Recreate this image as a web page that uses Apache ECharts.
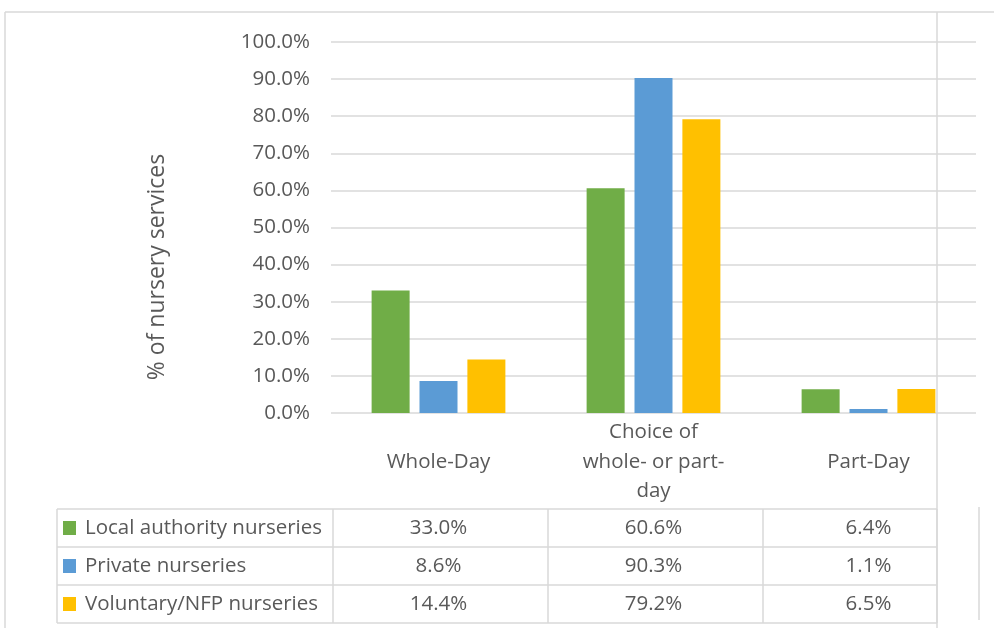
<!DOCTYPE html>
<html>
<head>
<meta charset="utf-8">
<script src="https://cdn.jsdelivr.net/npm/echarts@6/dist/echarts.min.js"></script>
<style>
  html, body { margin: 0; padding: 0; background: #fff; }
  #chart { width: 994px; height: 628px; }
</style>
</head>
<body>
<div id="chart"></div>
<script>
const categories = ['Whole-Day', 'Choice of\nwhole- or part-\nday', 'Part-Day']
const seriesNames = ['Local authority nurseries', 'Private nurseries', 'Voluntary/NFP nurseries']
const localAuthority = [33.0, 60.6, 6.4]
const privateNurseries = [8.6, 90.3, 1.1]
const voluntaryNfp = [14.4, 79.2, 6.5]
const colors = ['#70AD47', '#5B9BD5', '#FFC000']

const FONT = '"Open Sans", Lato, sans-serif'
const LINE = '#D9D9D9'
const TEXT = '#595959'

const chart = echarts.init(document.getElementById('chart'))
const values = [localAuthority, privateNurseries, voluntaryNfp]

chart.setOption({
  animation: false,
  grid: { left: 331, right: 18, top: 42, bottom: 215 },
  xAxis: {
    type: 'category',
    data: categories,
    axisLine: { show: false },
    axisTick: { show: false },
    axisLabel: {
      color: TEXT, fontFamily: FONT, fontSize: 20.5,
      verticalAlign: 'middle', margin: 49, lineHeight: 29.5
    }
  },
  yAxis: {
    type: 'value',
    min: 0, max: 100, interval: 10,
    axisLine: { show: false },
    axisTick: { show: false },
    axisLabel: {
      color: TEXT, fontFamily: FONT, fontSize: 20.5, margin: 21,
      formatter: v => v.toFixed(1) + '%'
    },
    splitLine: { lineStyle: { color: LINE, width: 1.5 } }
  },
  series: values.map((data, i) => ({
    name: seriesNames[i],
    type: 'bar',
    data: data,
    barWidth: 38,
    barGap: '26%',
    itemStyle: { color: colors[i] }
  }))
})

// frame, axis title and the data table below the plot
function drawExtras() {
  const centers = categories.map((c, i) => chart.convertToPixel({ xAxisIndex: 0 }, i))
  const rowTop = [509, 547, 585, 623]
  const colX = [57, 333, 548, 763, 937]
  const els = []
  const line = (x1, y1, x2, y2) => els.push({
    type: 'line', silent: true,
    shape: { x1, y1, x2, y2 },
    style: { stroke: LINE, lineWidth: 1.5 }
  })

  // outer frame
  line(5, 12, 994, 12)
  line(5, 12, 5, 628)
  line(937, 12, 937, 628)
  line(979, 507, 979, 620)

  // table grid
  rowTop.forEach(y => line(57, y, 937, y))
  colX.forEach(x => line(x, rowTop[0], x, rowTop[3]))

  seriesNames.forEach((name, r) => {
    const cy = (rowTop[r] + rowTop[r + 1]) / 2
    els.push({ type: 'rect', silent: true, shape: { x: 63, y: cy - 7, width: 13, height: 14 }, style: { fill: colors[r] } })
    els.push({
      type: 'text', silent: true, x: 85, y: cy,
      style: { text: name, fill: TEXT, font: '20.5px ' + FONT, verticalAlign: 'middle' }
    })
    values[r].forEach((v, c) => {
      els.push({
        type: 'text', silent: true, x: centers[c], y: cy,
        style: { text: v.toFixed(1) + '%', fill: TEXT, font: '20.5px ' + FONT, align: 'center', verticalAlign: 'middle' }
      })
    })
  })

  els.push({
    type: 'text', silent: true, x: 157, y: 267, rotation: Math.PI / 2,
    style: { text: '% of nursery services', fill: TEXT, font: '23px ' + FONT, align: 'center', verticalAlign: 'middle' }
  })

  chart.setOption({ graphic: els })
}

drawExtras()
</script>
</body>
</html>
